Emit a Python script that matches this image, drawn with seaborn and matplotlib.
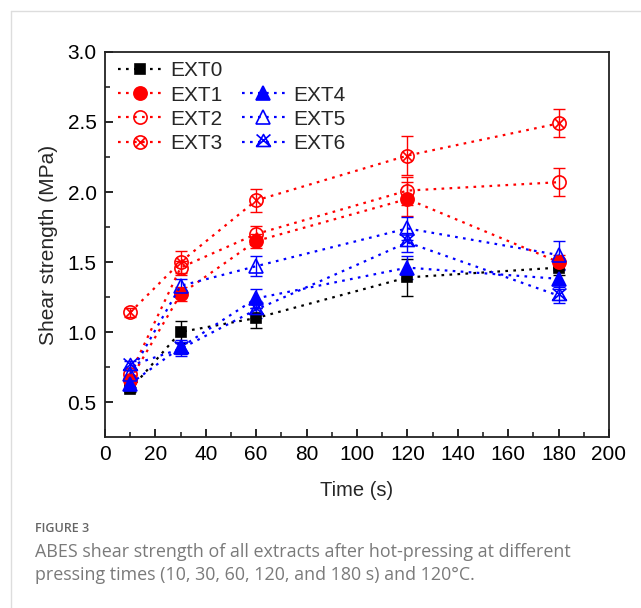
import numpy as np
import pandas as pd
import matplotlib
matplotlib.use("Agg")
import matplotlib.pyplot as plt
from matplotlib.path import Path
from matplotlib.lines import Line2D
import seaborn as sns

# 数据：剪切强度 (MPa)
times = [10, 30, 60, 120, 180]
series_names = ["EXT0", "EXT1", "EXT2", "EXT3", "EXT4", "EXT5", "EXT6"]
ext0 = [0.59, 1.00, 1.10, 1.39, 1.46]
ext1 = [0.66, 1.27, 1.65, 1.95, 1.50]
ext2 = [0.70, 1.46, 1.70, 2.01, 2.07]
ext3 = [1.14, 1.50, 1.94, 2.26, 2.49]
ext4 = [0.63, 0.89, 1.24, 1.46, 1.38]
ext5 = [0.70, 1.33, 1.47, 1.74, 1.55]
ext6 = [0.76, 0.88, 1.16, 1.64, 1.26]
err0 = [0.02, 0.08, 0.07, 0.13, 0.05]
err1 = [0.03, 0.05, 0.05, 0.12, 0.05]
err2 = [0.03, 0.05, 0.06, 0.10, 0.10]
err3 = [0.03, 0.08, 0.08, 0.14, 0.10]
err4 = [0.03, 0.05, 0.07, 0.08, 0.06]
err5 = [0.03, 0.05, 0.07, 0.08, 0.10]
err6 = [0.03, 0.05, 0.06, 0.07, 0.05]

values = [ext0, ext1, ext2, ext3, ext4, ext5, ext6]
errors = [err0, err1, err2, err3, err4, err5, err6]

# 自定义标记：圆 + X，三角 + X
circ = Path.unit_circle()
d = 0.7071
xcross = Path([(-d, -d), (d, d), (-d, d), (d, -d)],
              [Path.MOVETO, Path.LINETO, Path.MOVETO, Path.LINETO])
circle_x = Path.make_compound_path(circ, xcross)
tri = Path([(0, 1), (-0.866, -0.5), (0.866, -0.5), (0, 1)],
           [Path.MOVETO, Path.LINETO, Path.LINETO, Path.CLOSEPOLY])
tcross = Path([(-0.866, -0.5), (0.866, 1.0), (-0.866, 1.0), (0.866, -0.5)],
              [Path.MOVETO, Path.LINETO, Path.MOVETO, Path.LINETO])
tri_x = Path.make_compound_path(tri, tcross)

styles = {
    "EXT0": dict(color="black", marker="s", mfc="black", ms=7.5),
    "EXT1": dict(color="red", marker="o", mfc="red", ms=9.5),
    "EXT2": dict(color="red", marker="o", mfc="none", ms=9.5),
    "EXT3": dict(color="red", marker=circle_x, mfc="none", ms=9.5),
    "EXT4": dict(color="blue", marker="^", mfc="blue", ms=10.5),
    "EXT5": dict(color="blue", marker="^", mfc="none", ms=10.5),
    "EXT6": dict(color="blue", marker=tri_x, mfc="none", ms=11.5),
}

sns.set_style("white")
plt.rcParams["font.family"] = ["Liberation Sans", "DejaVu Sans"]
FS = 15

fig = plt.figure(figsize=(6.41, 6.08), dpi=100)
ax = fig.add_axes([0.1638, 0.2812, 0.7862, 0.6333])

handles = {}
for name, vals, errs in zip(series_names, values, errors):
    st = styles[name]
    ax.errorbar(times, vals, yerr=errs, fmt="none", ecolor=st["color"],
                elinewidth=1.0, capsize=4, capthick=1.0, zorder=2)
    df = pd.DataFrame({"Time": times, "Shear": vals})
    sns.lineplot(data=df, x="Time", y="Shear", ax=ax, errorbar=None,
                 color=st["color"], linestyle=(0, (1.2, 2.4)), linewidth=1.6,
                 marker=st["marker"], markersize=st["ms"],
                 markerfacecolor=st["mfc"], markeredgecolor=st["color"],
                 markeredgewidth=1.2, zorder=3)
    handles[name] = ax.lines[-1]

blank = Line2D([], [], linestyle="none", marker="none")
leg_handles = [handles["EXT0"], handles["EXT1"], handles["EXT2"], handles["EXT3"],
               blank, handles["EXT4"], handles["EXT5"], handles["EXT6"]]
leg_labels = ["EXT0", "EXT1", "EXT2", "EXT3", "", "EXT4", "EXT5", "EXT6"]
ax.legend(leg_handles, leg_labels, ncol=2, loc="upper left", frameon=False,
          fontsize=FS, handlelength=2.1, numpoints=1, handletextpad=0.4,
          columnspacing=0.9, labelspacing=0.25, borderaxespad=0.05,
          bbox_to_anchor=(0.008, 1.0))

ax.set_xlim(0, 200)
ax.set_ylim(0.25, 3.0)
ax.set_xticks(np.arange(0, 201, 20))
ax.set_xticks(np.arange(10, 200, 20), minor=True)
ax.set_yticks(np.arange(0.5, 3.01, 0.5))
ax.set_yticks(np.arange(0.75, 3.0, 0.5), minor=True)
ax.set_yticklabels([f"{v:.1f}" for v in np.arange(0.5, 3.01, 0.5)])
ax.tick_params(axis="both", which="major", direction="in", length=6, width=1.2,
               labelsize=FS, colors="black", pad=6)
ax.tick_params(axis="both", which="minor", direction="in", length=3.5, width=1.2)
ax.tick_params(bottom=True, left=True, top=False, right=False, which="both")
for sp in ax.spines.values():
    sp.set_color("#222222")
    sp.set_linewidth(1.3)
ax.set_xlabel("Time (s)", fontsize=14.5, labelpad=12)
ax.set_ylabel("Shear strength (MPa)", fontsize=FS, labelpad=7)

# 图注
cap_font = ["Open Sans", "DejaVu Sans"]
fig.text(35 / 641, 1 - 528 / 608, "FIGURE 3", fontsize=9, color="#666666",
         family=cap_font, weight="semibold", va="center", ha="left")
fig.text(35 / 641, 1 - 552 / 608,
         "ABES shear strength of all extracts after hot-pressing at different",
         fontsize=12.9, color="#7a7a7a", family=cap_font, va="center", ha="left")
fig.text(35 / 641, 1 - 575 / 608,
         "pressing times (10, 30, 60, 120, and 180 s) and 120°C.",
         fontsize=12.9, color="#7a7a7a", family=cap_font, va="center", ha="left")

# 外框（左/上浅灰线）
fig.add_artist(Line2D([11 / 641, 11 / 641], [0, 1 - 11 / 608], color="#dddddd",
                      linewidth=1, transform=fig.transFigure))
fig.add_artist(Line2D([11 / 641, 1], [1 - 11 / 608, 1 - 11 / 608], color="#dddddd",
                      linewidth=1, transform=fig.transFigure))

fig.savefig("out.png", dpi=100)
plt.close(fig)
